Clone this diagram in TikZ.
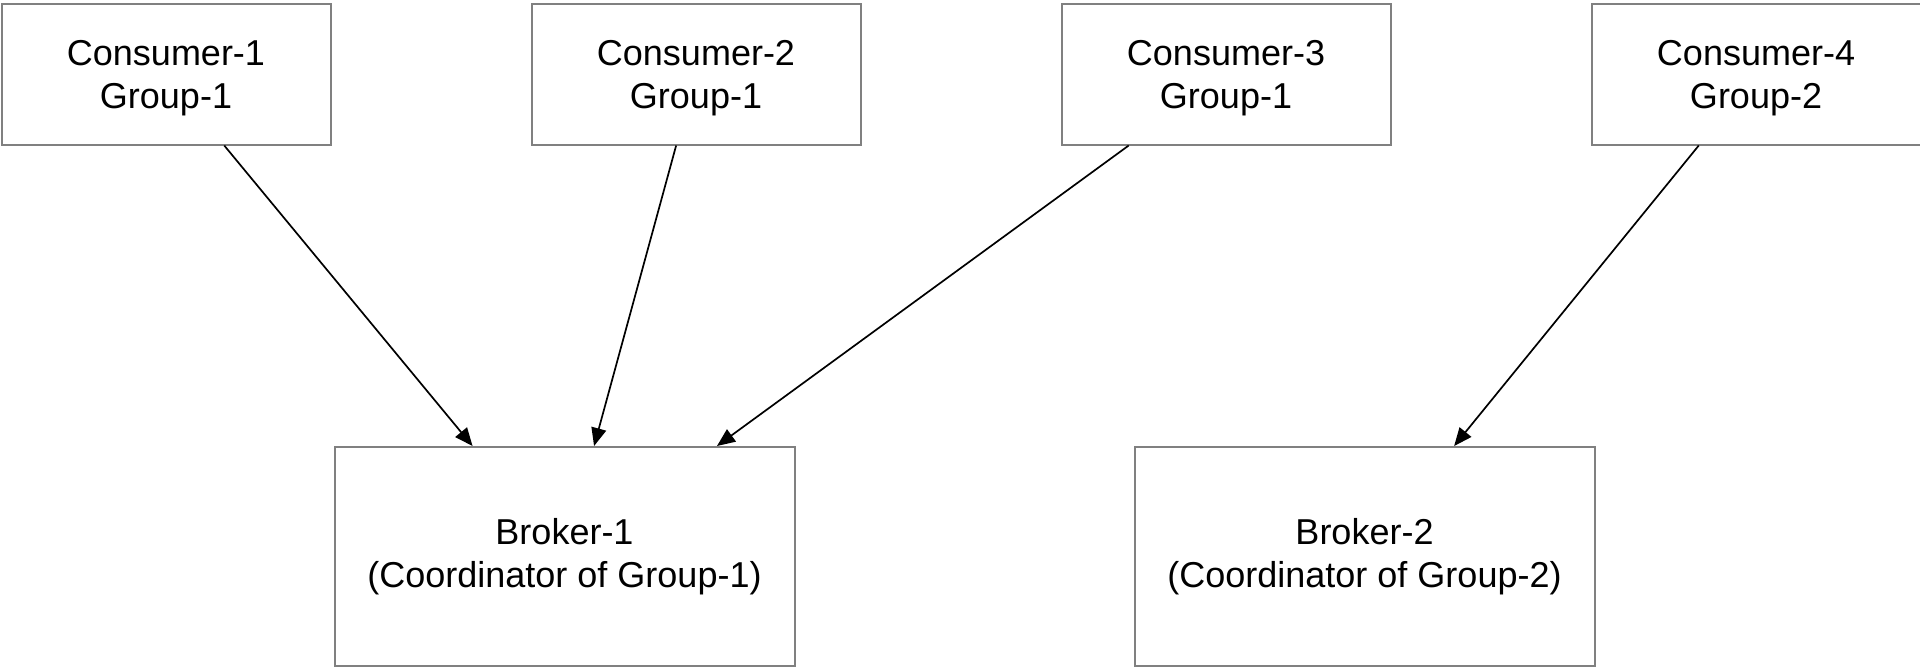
\documentclass[tikz,border=0pt]{standalone}
\usepackage{fontspec}
\setmainfont{Liberation Sans}
\usetikzlibrary{calc,arrows.meta}
\begin{document}
\begin{tikzpicture}[x=0.5pt,y=-0.5pt,
  box/.style={draw=black!50,line width=1pt,fill=white,anchor=north west,inner sep=0pt,
    align=center,font=\fontsize{18}{21.5}\selectfont},
  cbox/.style={box,minimum width=164.5pt,minimum height=70.5pt,text depth=0pt},
  bbox/.style={box,minimum width=230pt,minimum height=109.5pt},
  arr/.style={draw=black,line width=0.85pt,-{Triangle[length=9pt,width=7.5pt]}}]
\useasboundingbox (0,0) rectangle (1920,666);
\node[cbox] (c1) at (0.5,2.5) {Consumer-1\\Group-1};
\node[cbox] (c2) at (530.5,2.5) {Consumer-2\\Group-1};
\node[cbox] (c3) at (1060.5,2.5) {Consumer-3\\Group-1};
\node[cbox] (c4) at (1590.5,2.5) {Consumer-4\\Group-2};
\node[bbox] (b1) at (333.5,446) {Broker-1\\(Coordinator of Group-1)};
\node[bbox] (b2) at (1133.5,446) {Broker-2\\(Coordinator of Group-2)};
\draw[arr] ($(c1.south west)!0.676!(c1.south east)$) -- ($(b1.north west)!0.301!(b1.north east)$);
\draw[arr] ($(c2.south west)!0.44!(c2.south east)$) -- ($(b1.north west)!0.564!(b1.north east)$);
\draw[arr] ($(c3.south west)!0.206!(c3.south east)$) -- ($(b1.north west)!0.83!(b1.north east)$);
\draw[arr] ($(c4.south west)!0.327!(c4.south east)$) -- ($(b2.north west)!0.694!(b2.north east)$);
\end{tikzpicture}
\end{document}
